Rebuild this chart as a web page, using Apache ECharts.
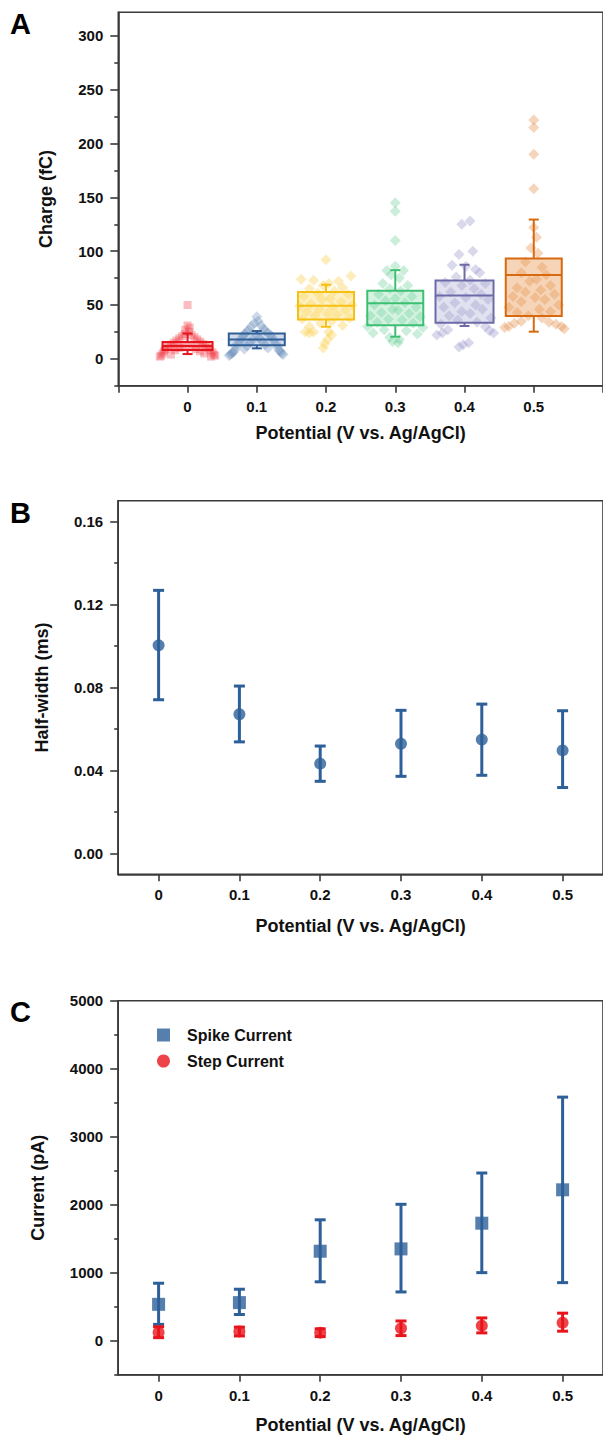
<!DOCTYPE html>
<html>
<head>
<meta charset="utf-8">
<script src="https://cdn.jsdelivr.net/npm/echarts@6/dist/echarts.min.js"></script>
<style>
html,body{margin:0;padding:0;background:#fff;}
#c{width:603px;height:1437px;}
</style>
</head>
<body>
<div id="c"></div>
<script>
// ---------------- DATA ----------------
const potentials = [0, 0.1, 0.2, 0.3, 0.4, 0.5];

// Panel A: charge box statistics [whiskerLow, Q1, median, Q3, whiskerHigh] (fC)
const chargeBoxStats = [
  [4.4, 8.1, 12.0, 15.5, 23.5],
  [9.7, 12.5, 18.0, 23.6, 25.8],
  [29.8, 36.5, 49.3, 62.0, 68.8],
  [20.5, 31.1, 51.7, 63.2, 82.4],
  [30.5, 33.6, 58.8, 72.8, 87.4],
  [25.2, 39.8, 77.8, 93.3, 129.4]
];
// Panel A: individual events [charge (fC), horizontal spread within box (-1..1)]
const charge_0V = [[50,0],[31,0],[29,0.08],[27,-0.08],[25,0.05],[23,-0.1],[22,0.15],[21,-0.2],[20,0.25],[19,-0.3],[18,0.35],[17,-0.4],[16,0.45],[15,-0.5],[14,0.55],[13,-0.6],[12,0.65],[12,-0.15],[11,0.15],[11,-0.7],[10,0.75],[10,-0.3],[9,0.3],[9,-0.8],[8,0.8],[8,-0.45],[7,0.45],[7,-0.85],[6,0.9],[5,-0.9],[5,0.6],[4,-0.6],[4,0.95],[3,-0.95],[3,1],[2,-1],[2,0.85]];
const charge_01V = [[39,0],[35,0.05],[33,-0.1],[31,0.15],[30,-0.2],[28,0.25],[27,-0.3],[26,0.3],[25,-0.35],[24,0.4],[23,-0.45],[22,0.5],[22,0],[21,-0.5],[20,0.55],[19,-0.55],[19,0.1],[18,-0.15],[17,0.6],[16,-0.6],[16,0.2],[15,-0.25],[14,0.7],[14,-0.7],[13,0.3],[12,-0.35],[11,0.75],[11,-0.75],[10,0.4],[9,-0.45],[8,0.8],[8,-0.8],[7,0.85],[6,-0.85],[5,0.9],[5,-0.9],[4,0.95],[4,-0.95],[3,-1]];
const charge_02V = [[92,0],[77,0.9],[74,-0.9],[73,-0.45],[72,0.45],[70,0.1],[68,-0.1],[66,0.6],[65,-0.6],[63,0.3],[61,-0.3],[60,0.8],[58,-0.8],[56,0.15],[55,-0.15],[53,0.55],[51,-0.55],[50,0.95],[49,-0.95],[48,0.25],[46,-0.25],[45,0.7],[44,-0.7],[42,0.05],[41,0.4],[40,-0.4],[38,0.85],[37,-0.85],[35,0.2],[33,-0.2],[31,0.6],[30,-0.6],[25,-0.75],[25,-0.45],[24,-0.6],[25,0.1],[22,0.2],[18,0.05],[14,-0.05],[10,-0.1]];
const charge_03V = [[145,0],[137,0],[110,0],[86,0],[82,-0.3],[82,0.3],[78,-0.15],[75,0.15],[70,-0.45],[68,0.45],[65,-0.2],[63,0.2],[60,-0.6],[58,0.6],[56,0],[54,-0.35],[52,0.35],[50,-0.75],[48,0.75],[46,-0.1],[45,0.1],[43,-0.5],[42,0.5],[40,-0.9],[39,0.9],[37,-0.25],[36,0.25],[34,-0.65],[33,0.65],[30,-1],[29,1],[27,-0.4],[26,0.4],[24,-0.8],[23,0.8],[20,-0.2],[18,0.15],[16,-0.1],[15,0.1]];
const charge_04V = [[128,0.2],[125,-0.1],[100,0.3],[97,-0.2],[87,-0.45],[86,0.05],[83,0.4],[80,0.55],[76,-0.3],[73,0.2],[71,-0.7],[70,0.75],[68,-0.1],[65,0.35],[62,-0.5],[60,0.6],[58,-0.9],[57,0.05],[55,0.85],[52,-0.35],[50,0.4],[48,-0.75],[46,0.65],[44,-0.1],[42,0.2],[40,-0.55],[38,0.95],[36,-0.25],[34,0.45],[32,-0.85],[30,0.75],[27,-0.6],[26,0.9],[24,-0.8],[22,-1],[24,1.05],[15,0.15],[13,-0.05],[11,-0.2]];
const charge_05V = [[222,0],[215,0],[190,0],[158,0],[122,0],[113,0.1],[103,-0.1],[98,0.15],[90,-0.3],[85,0.3],[80,-0.45],[78,0.45],[74,0.1],[72,-0.15],[68,0.6],[66,-0.6],[64,0.25],[62,-0.3],[60,0.75],[58,-0.75],[57,0.05],[55,0.4],[53,-0.45],[50,0.9],[48,-0.9],[46,0.2],[44,0.6],[43,-0.6],[40,-0.2],[38,0.3],[35,-0.45],[34,0.55],[33,-0.7],[32,0.8],[30,-0.9],[30,1],[29,-1.05],[28,1.1]];
const chargeEvents = [charge_0V, charge_01V, charge_02V, charge_03V, charge_04V, charge_05V];

// Panel B: half-width (ms)
const halfWidthMean = [0.1003, 0.0671, 0.0433, 0.0529, 0.0549, 0.0497];
const halfWidthLow  = [0.0741, 0.0538, 0.0348, 0.0372, 0.0377, 0.0318];
const halfWidthHigh = [0.1268, 0.0807, 0.0518, 0.0690, 0.0720, 0.0688];

// Panel C: current (pA)
const spikeMean = [535, 560, 1316, 1350, 1728, 2219];
const spikeLow  = [240, 385, 866, 717, 1001, 854];
const spikeHigh = [845, 757, 1778, 2006, 2466, 3582];
const stepMean = [122, 137, 118, 182, 221, 265];
const stepLow  = [45, 70, 60, 75, 115, 140];
const stepHigh = [205, 200, 175, 290, 335, 405];

// Tick values
const xTicks = [0, 0.1, 0.2, 0.3, 0.4, 0.5];
const chargeTicks = [0, 50, 100, 150, 200, 250, 300];
const chargeMinor = [-25, 25, 75, 125, 175, 225, 275];
const hwTicks = [0, 0.04, 0.08, 0.12, 0.16];
const hwMinor = [0.02, 0.06, 0.10, 0.14];
const curTicks = [0, 1000, 2000, 3000, 4000, 5000];
const curMinor = [-500, 500, 1500, 2500, 3500, 4500];

// ---------------- STYLE ----------------
const FONT = "'Liberation Sans', Arial, sans-serif";
const AXIS = '#3a3a3a';
const TXT = '#111';
const boxColors = [
  {line:'#e8141d', fill:'rgba(238,60,70,0.25)', pt:'rgba(238,50,60,0.40)', symbol:'rect', half:25},
  {line:'#2f5f96', fill:'rgba(120,155,200,0.35)', pt:'rgba(90,130,180,0.38)', symbol:'diamond', half:28},
  {line:'#f6c012', fill:'rgba(252,215,90,0.35)', pt:'rgba(250,205,70,0.45)', symbol:'diamond', half:28},
  {line:'#3cbf73', fill:'rgba(120,215,160,0.30)', pt:'rgba(70,195,125,0.35)', symbol:'diamond', half:28},
  {line:'#6d6ba7', fill:'rgba(170,168,210,0.35)', pt:'rgba(140,138,195,0.40)', symbol:'diamond', half:29},
  {line:'#d8690f', fill:'rgba(235,160,95,0.45)', pt:'rgba(230,150,85,0.50)', symbol:'diamond', half:28}
];
const BLUE = '#2d5f99';
const RED = '#e8141c';

function xLabel(v){ return v === 0 ? '0' : v.toFixed(1); }

const labelStyle = {fontSize:15, fontWeight:'bold', color:TXT, fontFamily:FONT};
const nameStyle = {fontSize:18, fontWeight:'bold', color:TXT, fontFamily:FONT};

function xAxisFor(grid, min, max, nameGap, tickVals){
  return {
    type:'value', gridIndex:grid, min:min, max:max, position:'bottom',
    name:'Potential (V vs. Ag/AgCl)', nameLocation:'middle', nameGap:nameGap, nameTextStyle:nameStyle,
    axisLine:{show:true, onZero:false, lineStyle:{color:AXIS, width:1.6}},
    axisTick:{show:true, length:7, lineStyle:{color:AXIS, width:1.6}, customValues:tickVals},
    axisLabel:{show:true, margin:13, customValues:xTicks, formatter:xLabel, ...labelStyle},
    splitLine:{show:false}
  };
}
function yAxisMajor(grid, min, max, name, nameGap, ticks, fmt){
  return {
    type:'value', gridIndex:grid, min:min, max:max, position:'left',
    name:name, nameLocation:'middle', nameGap:nameGap, nameRotate:90, nameTextStyle:nameStyle,
    axisLine:{show:true, onZero:false, lineStyle:{color:AXIS, width:1.6}},
    axisTick:{show:true, length:8, lineStyle:{color:AXIS, width:1.6}, customValues:ticks},
    axisLabel:{show:true, margin:15, customValues:ticks, formatter:fmt, ...labelStyle},
    splitLine:{show:false}
  };
}
function yAxisMinor(grid, min, max, ticks){
  return {
    type:'value', gridIndex:grid, min:min, max:max, position:'left', offset:0,
    axisLine:{show:false, onZero:false},
    axisTick:{show:true, length:4, lineStyle:{color:AXIS, width:1.6}, customValues:ticks},
    axisLabel:{show:false},
    splitLine:{show:false}
  };
}

// ---------- Series builders ----------
const series = [];

// Panel A events (scatter)
chargeEvents.forEach((arr, i) => {
  const c = boxColors[i];
  series.push({
    type:'scatter', xAxisIndex:0, yAxisIndex:0, z:2,
    symbol:c.symbol, symbolSize: c.symbol === 'rect' ? 8 : 11,
    itemStyle:{color:c.pt},
    data: arr.map(p => [potentials[i] + p[1] * 0.04, p[0]])
  });
});

// Panel A boxes (custom)
series.push({
  type:'custom', xAxisIndex:0, yAxisIndex:0, z:3,
  data: chargeBoxStats.map((s, i) => [potentials[i], s[0], s[1], s[2], s[3], s[4], i]),
  renderItem: function(params, api){
    const x = api.value(0);
    const i = api.value(6);
    const c = boxColors[i];
    const lo = api.coord([x, api.value(1)]);
    const q1 = api.coord([x, api.value(2)]);
    const md = api.coord([x, api.value(3)]);
    const q3 = api.coord([x, api.value(4)]);
    const hi = api.coord([x, api.value(5)]);
    const cx = md[0], h = c.half, cap = 5;
    const ls = {stroke:c.line, lineWidth:2};
    return {type:'group', children:[
      {type:'rect', shape:{x:cx-h, y:q3[1], width:2*h, height:q1[1]-q3[1]}, style:{fill:c.fill, stroke:c.line, lineWidth:2}},
      {type:'line', shape:{x1:cx-h, y1:md[1], x2:cx+h, y2:md[1]}, style:ls},
      {type:'line', shape:{x1:cx, y1:q3[1], x2:cx, y2:hi[1]}, style:ls},
      {type:'line', shape:{x1:cx, y1:q1[1], x2:cx, y2:lo[1]}, style:ls},
      {type:'line', shape:{x1:cx-cap, y1:hi[1], x2:cx+cap, y2:hi[1]}, style:ls},
      {type:'line', shape:{x1:cx-cap, y1:lo[1], x2:cx+cap, y2:lo[1]}, style:ls}
    ]};
  }
});

function errorBarSeries(xi, yi, low, high, color){
  return {
    type:'custom', xAxisIndex:xi, yAxisIndex:yi, z:3,
    data: potentials.map((p, i) => [p, low[i], high[i]]),
    renderItem: function(params, api){
      const lo = api.coord([api.value(0), api.value(1)]);
      const hi = api.coord([api.value(0), api.value(2)]);
      const cap = 5.5;
      const ls = {stroke:color, lineWidth:3};
      return {type:'group', children:[
        {type:'line', shape:{x1:lo[0], y1:lo[1], x2:hi[0], y2:hi[1]}, style:ls},
        {type:'line', shape:{x1:lo[0]-cap, y1:lo[1], x2:lo[0]+cap, y2:lo[1]}, style:ls},
        {type:'line', shape:{x1:hi[0]-cap, y1:hi[1], x2:hi[0]+cap, y2:hi[1]}, style:ls}
      ]};
    }
  };
}

// Panel B
series.push(errorBarSeries(1, 2, halfWidthLow, halfWidthHigh, BLUE));
series.push({type:'scatter', xAxisIndex:1, yAxisIndex:2, z:4, symbol:'circle', symbolSize:12,
  itemStyle:{color:BLUE}, data: potentials.map((p,i)=>[p, halfWidthMean[i]])});

// Panel C
series.push(errorBarSeries(2, 4, spikeLow, spikeHigh, BLUE));
series.push(errorBarSeries(2, 4, stepLow, stepHigh, RED));
series.push({type:'scatter', name:'Spike Current', xAxisIndex:2, yAxisIndex:4, z:4, symbol:'rect', symbolSize:13,
  itemStyle:{color:BLUE}, data: potentials.map((p,i)=>[p, spikeMean[i]])});
series.push({type:'scatter', name:'Step Current', xAxisIndex:2, yAxisIndex:4, z:4, symbol:'circle', symbolSize:12,
  itemStyle:{color:RED}, data: potentials.map((p,i)=>[p, stepMean[i]])});

const gridStyle = {show:true, borderColor:AXIS, borderWidth:1.6, backgroundColor:'transparent', containLabel:false};

const option = {
  animation:false,
  backgroundColor:'#fff',
  textStyle:{fontFamily:FONT},
  title:[
    {text:'A', left:10, top:9, padding:0, textStyle:{fontSize:29, fontWeight:'bold', color:'#000', fontFamily:FONT}},
    {text:'B', left:10, top:498, padding:0, textStyle:{fontSize:29, fontWeight:'bold', color:'#000', fontFamily:FONT}},
    {text:'C', left:10, top:997, padding:0, textStyle:{fontSize:29, fontWeight:'bold', color:'#000', fontFamily:FONT}}
  ],
  legend:{
    orient:'vertical', left:157, top:1027, padding:0, itemGap:10, itemWidth:13, itemHeight:13,
    data:[{name:'Spike Current', icon:'rect'}, {name:'Step Current', icon:'circle'}],
    textStyle:{fontSize:16, fontWeight:'bold', color:TXT, fontFamily:FONT, padding:[0,0,0,12]}
  },
  grid:[
    Object.assign({left:118.3, top:12.3, width:492, height:373.4}, gridStyle),
    Object.assign({left:118.2, top:500.7, width:494, height:373.6}, gridStyle),
    Object.assign({left:118.2, top:1000.7, width:494, height:374}, gridStyle)
  ],
  xAxis:[
    xAxisFor(0, -0.1, 0.6, 38, [-0.1, 0, 0.1, 0.2, 0.3, 0.4, 0.5, 0.6]),
    xAxisFor(1, -0.05, 0.55, 43, xTicks),
    xAxisFor(2, -0.05, 0.55, 41, xTicks)
  ],
  yAxis:[
    yAxisMajor(0, -25, 322, 'Charge (fC)', 63, chargeTicks, v => String(v)),
    yAxisMinor(0, -25, 322, chargeMinor),
    yAxisMajor(1, -0.01, 0.17, 'Half-width (ms)', 67, hwTicks, v => v.toFixed(2)),
    yAxisMinor(1, -0.01, 0.17, hwMinor),
    yAxisMajor(2, -500, 5000, 'Current (pA)', 71, curTicks, v => String(Math.round(v))),
    yAxisMinor(2, -500, 5000, curMinor)
  ],
  series: series
};

const chart = echarts.init(document.getElementById('c'), null, {renderer:'svg', width:603, height:1437});
chart.setOption(option);
</script>
</body>
</html>
